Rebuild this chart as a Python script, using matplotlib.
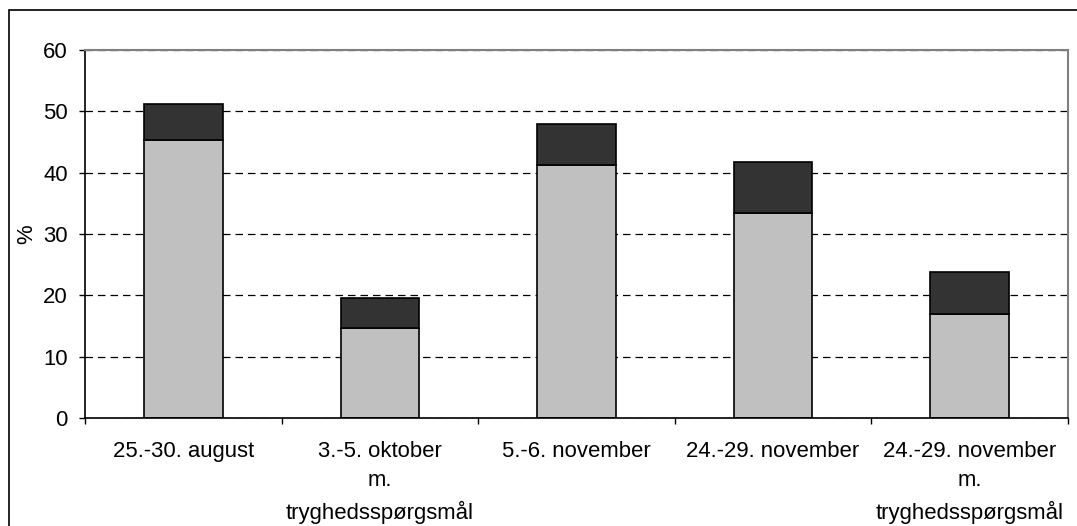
import matplotlib.pyplot as plt
from matplotlib.patches import Rectangle
import numpy as np

plt.rcParams['font.family'] = ['Liberation Sans', 'DejaVu Sans']

categories = ["25.-30. august", "3.-5. oktober\nm.\ntryghedsspørgsmål",
              "5.-6. november", "24.-29. november",
              "24.-29. november\nm.\ntryghedsspørgsmål"]
lower = [45.3, 14.6, 41.3, 33.5, 16.9]
upper = [5.9, 5.0, 6.6, 8.2, 6.9]
yticks = [0, 10, 20, 30, 40, 50, 60]

fig = plt.figure(figsize=(10.77, 5.26), dpi=100)
ax = fig.add_axes([85/1077, 1 - 418/526, 983/1077, 368/526])

# outer frame around the whole chart (right/bottom run off the picture)
fig.patches.append(Rectangle((9/1077, -0.2), 1.2, 1.2 - 10/526,
                             transform=fig.transFigure, fill=False,
                             edgecolor='black', linewidth=1.2))

x = np.arange(len(categories))
ax.bar(x, lower, width=0.4, color='#c0c0c0', edgecolor='black', linewidth=1.2, zorder=2)
ax.bar(x, upper, width=0.4, bottom=lower, color='#333333', edgecolor='black',
       linewidth=1.2, zorder=2)

ax.set_xlim(-0.5, len(categories) - 0.5)
ax.set_ylim(0, 60)
ax.set_yticks(yticks)
ax.set_yticklabels([str(v) for v in yticks], fontsize=15.9)
ax.set_xticks(x)
ax.set_xticklabels(categories, fontsize=15.9, linespacing=1.52)
ax.set_xticks(np.arange(-0.5, len(categories)), minor=True)
ax.tick_params(axis='x', which='major', length=0, pad=16.5)
ax.tick_params(axis='x', which='minor', length=4.5, width=1, direction='out')
ax.tick_params(axis='y', length=4.5, width=1, direction='out', pad=8)

ax.yaxis.grid(True, color='black', linestyle=(0, (6, 4)), linewidth=0.9)
ax.set_axisbelow(True)

for s in ['top', 'right']:
    ax.spines[s].set_color('#808080')
    ax.spines[s].set_linewidth(1.5)
for s in ['left', 'bottom']:
    ax.spines[s].set_color('black')
    ax.spines[s].set_linewidth(1.2)

ax.text(-0.059, 0.5, '%', rotation=90, transform=ax.transAxes,
        ha='center', va='center', fontsize=15.9)

fig.savefig('out.png', dpi=100)
